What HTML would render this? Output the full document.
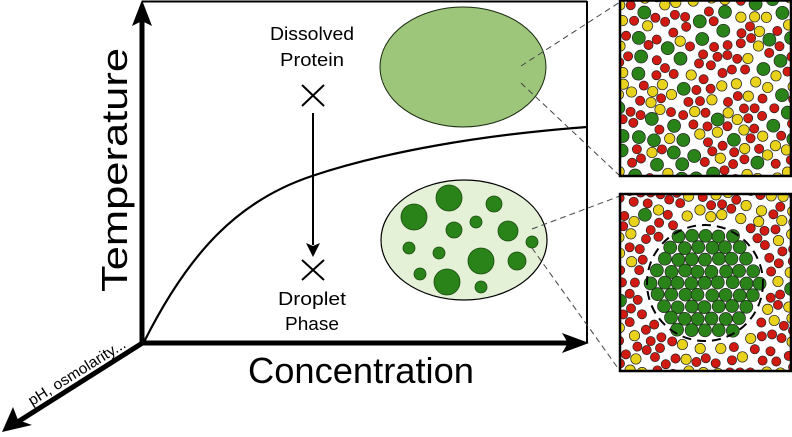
<!DOCTYPE html>
<html><head><meta charset="utf-8"><style>
html,body{margin:0;padding:0;background:#fff;width:792px;height:437px;overflow:hidden}
svg{display:block}
text{font-family:"Liberation Sans",sans-serif}
</style></head><body>
<svg id="s" width="792" height="437" viewBox="0 0 792 437" xmlns="http://www.w3.org/2000/svg">
<defs>
<clipPath id="c1"><rect x="620" y="0" width="171" height="176"/></clipPath>
<clipPath id="c2"><rect x="620" y="194" width="171" height="177"/></clipPath>
</defs>
<line x1="142" y1="1.5" x2="587" y2="1.5" stroke="#000" stroke-width="2"/>
<line x1="587" y1="1" x2="587" y2="343" stroke="#000" stroke-width="2"/>
<line x1="142" y1="345" x2="142" y2="16" stroke="#000" stroke-width="5"/>
<polygon points="142,0 132,26 142,21 152,26" fill="#000"/>
<line x1="140" y1="343" x2="572" y2="343" stroke="#000" stroke-width="5"/>
<polygon points="589,343 562,333 568,343 562,353" fill="#000"/>
<line x1="144" y1="342" x2="16" y2="423" stroke="#000" stroke-width="5"/>
<polygon points="2,432 13,407 18,420 32,425" fill="#000"/>
<text transform="translate(32,406) rotate(-32)" font-size="15" textLength="112" lengthAdjust="spacingAndGlyphs">pH, osmolarity...</text>
<text transform="translate(127,170) rotate(-90)" font-size="36" text-anchor="middle" textLength="244" lengthAdjust="spacingAndGlyphs">Temperature</text>
<text x="248" y="383" font-size="36" textLength="226" lengthAdjust="spacingAndGlyphs">Concentration</text>
<path d="M144,342 C190,250 240,200 312,176 S480,135 587,127" fill="none" stroke="#000" stroke-width="2.2"/>
<text x="312" y="40" font-size="18" text-anchor="middle" textLength="84" lengthAdjust="spacingAndGlyphs">Dissolved</text>
<text x="312" y="66" font-size="18" text-anchor="middle" textLength="64" lengthAdjust="spacingAndGlyphs">Protein</text>
<path d="M302,85 L324,106 M324,85 L302,106" stroke="#000" stroke-width="2"/>
<line x1="313" y1="113" x2="313" y2="245" stroke="#000" stroke-width="2"/>
<polygon points="313,257 306,243 313,246 320,243" fill="#000"/>
<path d="M302,260 L324,280 M324,260 L302,280" stroke="#000" stroke-width="2"/>
<text x="312" y="305" font-size="18" text-anchor="middle" textLength="68" lengthAdjust="spacingAndGlyphs">Droplet</text>
<text x="312" y="330" font-size="18" text-anchor="middle" textLength="54" lengthAdjust="spacingAndGlyphs">Phase</text>
<ellipse cx="463" cy="67" rx="83" ry="60" fill="#9dc67b" stroke="#1a2a10" stroke-width="1"/>
<ellipse cx="464" cy="240" rx="83" ry="60" fill="#e5f1d6" stroke="#000" stroke-width="1.2"/>
<g fill="#2a8319" stroke="#1a4a10" stroke-width="0.8">
<circle cx="414" cy="217" r="13"/><circle cx="449" cy="198" r="13"/><circle cx="494" cy="204" r="8"/>
<circle cx="476" cy="222" r="6"/><circle cx="454" cy="230" r="8"/><circle cx="508" cy="231" r="10"/>
<circle cx="532" cy="242" r="6"/><circle cx="409" cy="248" r="6"/><circle cx="439" cy="253" r="6"/>
<circle cx="481" cy="261" r="13"/><circle cx="517" cy="261" r="9"/><circle cx="420" cy="274" r="6"/>
<circle cx="447" cy="282" r="13"/><circle cx="481" cy="287" r="6"/>
</g>
<g stroke="#444" stroke-width="1" stroke-dasharray="6,4" fill="none">
<line x1="521" y1="66" x2="620" y2="2"/>
<line x1="521" y1="83" x2="620" y2="176"/>
<line x1="532" y1="229" x2="620" y2="196"/>
<line x1="532" y1="248" x2="620" y2="371"/>
</g>
<g id="p1" clip-path="url(#c1)"></g>
<g id="p2" clip-path="url(#c2)"></g>
<rect x="620" y="0.5" width="171" height="175.5" fill="none" stroke="#000" stroke-width="2.5"/>
<rect x="620" y="194" width="171" height="177" fill="none" stroke="#000" stroke-width="2.5"/>
<circle cx="705" cy="283" r="58" fill="none" stroke="#000" stroke-width="2" stroke-dasharray="9,6"/>
</svg>
<script>
(function(){
var seed=12345;function r(){seed=(seed*1103515245+12345)%2147483648;return seed/2147483648;}
var NS="http://www.w3.org/2000/svg";
var G={f:"#2a8319",r:6.5},R={f:"#d11a12",r:4.6},Y={f:"#e8d21c",r:5.2};
function add(g,x,y,t){var c=document.createElementNS(NS,"circle");c.setAttribute("cx",x.toFixed(1));c.setAttribute("cy",y.toFixed(1));c.setAttribute("r",t.r);c.setAttribute("fill",t.f);c.setAttribute("stroke","#222");c.setAttribute("stroke-width","0.7");g.appendChild(c);}
function fill(g,x0,y0,w,h,n,pick,ok,pts){pts=pts||[];var cnt=0;var tries=0;while(cnt<n&&tries<60000){tries++;var t=pick();var x=x0-3+r()*(w+6),y=y0-3+r()*(h+6);if(ok&&!ok(x,y,t))continue;var bad=false;for(var i=0;i<pts.length;i++){var p=pts[i];var dx=p.x-x,dy=p.y-y;if(dx*dx+dy*dy<(p.t.r+t.r+0.6)*(p.t.r+t.r+0.6)){bad=true;break;}}if(bad)continue;pts.push({x:x,y:y,t:t});cnt++;add(g,x,y,t);}}
var p1=document.getElementById("p1"),p2=document.getElementById("p2");
fill(p1,620,0,171,176,330,function(){var q=r();return q<0.36?G:(q<0.72?R:Y);});
var cx=705,cy=283,pts=[];
var sp=13.6;
for(var j=-5;j<=5;j++){for(var i=-6;i<=6;i++){var x=cx+i*sp+(j%2?sp/2:0)+(r()-0.5)*1.6,y=cy+j*sp*0.866+(r()-0.5)*1.6;var dx=x-cx,dy=y-cy;if(dx*dx+dy*dy<56*56){pts.push({x:x,y:y,t:G});add(p2,x,y,G);}}}
fill(p2,620,194,171,177,260,function(){var q=r();return q<0.07?G:(q<0.66?R:Y);},function(x,y,t){var dx=x-cx,dy=y-cy;return dx*dx+dy*dy>(60+t.r)*(60+t.r);},pts);
})();
</script>
</body></html>
